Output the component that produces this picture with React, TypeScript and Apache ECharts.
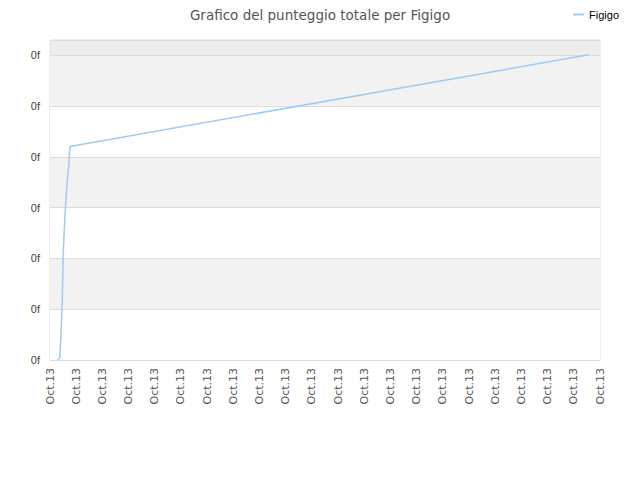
import React, { useEffect, useRef } from "react";
import * as echarts from "echarts";

// x positions in label steps (0..21), y in score units
const xValues = [0.3, 0.37, 0.41, 0.47, 0.5, 0.55, 0.59, 0.66, 0.71, 0.76, 0.81, 20.57];
const yValues = [0, 0.04, 0.39, 1.18, 2.03, 2.62, 3.01, 3.54, 3.8, 4.19, 4.21, 6.01];
const xTickLabel = "Oct.13";
const yTickLabel = "0f";
const seriesName = "Figigo";

export default function App() {
	const chartRef = useRef<HTMLDivElement>(null);

	useEffect(() => {
		if (!chartRef.current) return;
		const chart = echarts.init(chartRef.current, null, { renderer: "svg" });

		chart.setOption({
			animation: false,
			title: {
				text: "Grafico del punteggio totale per Figigo",
				left: "center",
				top: 3,
				textStyle: { fontFamily: "DejaVu Sans", fontSize: 13.5, fontWeight: "normal", color: "#555" },
			},
			legend: {
				right: 16,
				top: 4,
				itemWidth: 11,
				itemHeight: 2,
				icon: "rect",
				textStyle: { fontFamily: "Liberation Sans Narrow, Liberation Sans", fontSize: 11, color: "#000" },
				data: [seriesName],
			},
			grid: {
				left: 50,
				right: 40,
				top: 40,
				bottom: 120,
				show: true,
				borderColor: "#dcdcdc",
				borderWidth: 1,
			},
			xAxis: {
				type: "value",
				min: 0,
				max: 21,
				interval: 1,
				axisLine: { show: false },
				axisTick: { show: false },
				splitLine: { show: false },
				axisLabel: {
					rotate: 90,
					formatter: () => xTickLabel,
					fontFamily: "DejaVu Sans",
					fontSize: 11,
					color: "#555",
					margin: 8,
				},
			},
			yAxis: {
				type: "value",
				min: 0,
				max: 6.3,
				interval: 1,
				axisLine: { show: false },
				axisTick: { show: false },
				axisLabel: {
					showMaxLabel: false,
					formatter: () => yTickLabel,
					fontFamily: "Liberation Sans Narrow, Liberation Sans",
					fontSize: 11,
					color: "#444",
					margin: 10,
				},
				splitLine: { lineStyle: { color: "#dcdcdc" } },
				splitArea: {
					show: true,
					areaStyle: { color: ["#ffffff", "#f2f2f2", "#ffffff", "#f2f2f2", "#ffffff", "#f2f2f2", "#ededed"] },
				},
			},
			series: [
				{
					name: seriesName,
					type: "line",
					data: xValues.map((x, i) => [x, yValues[i]]),
					showSymbol: false,
					lineStyle: { color: "#9ecbf5", width: 1.5 },
					itemStyle: { color: "#9ecbf5" },
				},
			],
		});

		return () => chart.dispose();
	}, []);

	return <div ref={chartRef} style={{ width: 640, height: 480, margin: -8 }} />;
}
